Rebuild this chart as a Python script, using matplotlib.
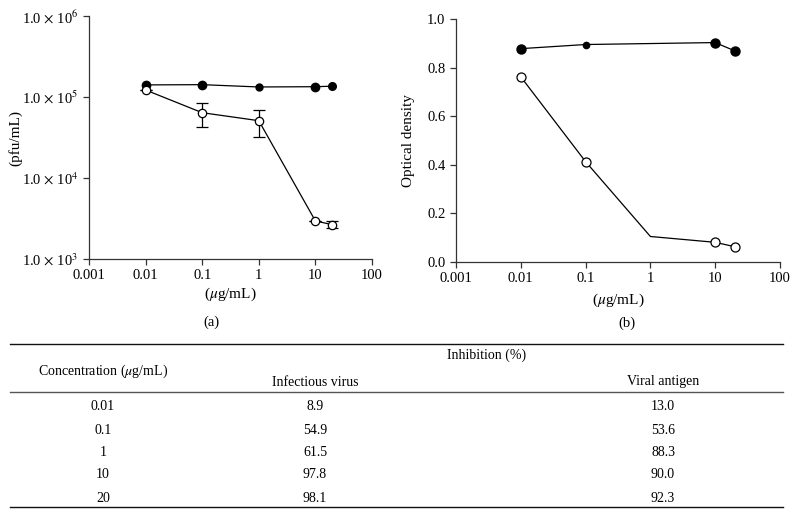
import matplotlib
matplotlib.use("Agg")
import matplotlib.pyplot as plt
from matplotlib.lines import Line2D
from matplotlib.ticker import FixedLocator, NullLocator

plt.rcParams['font.family'] = ['Liberation Serif', 'DejaVu Serif']
plt.rcParams['mathtext.fontset'] = 'stix'

# concentrations (ug/mL)
conc = [0.01, 0.1, 1, 10, 20]

# panel (a): virus titre (pfu/mL)
titre_ctrl = [1.41e5, 1.42e5, 1.33e5, 1.34e5, 1.36e5]
titre_ctrl_size = [6, 6, 5, 6, 5.5]
titre_drug = [1.22e5, 6.4e4, 5.1e4, 2.95e3, 2.65e3]
titre_drug_lo = [0, 2.1e4, 1.85e4, 0, 2.5e2]
titre_drug_hi = [0, 2.1e4, 1.9e4, 0, 3.2e2]

# panel (b): optical density
od_ctrl = [0.878, 0.895, 0.903, 0.869]
od_ctrl_conc = [0.01, 0.1, 10, 20]
od_ctrl_size = [6.5, 4.5, 6.5, 6.5]
od_drug = [0.762, 0.413, 0.105, 0.081, 0.063]
od_drug_marked = [True, True, False, True, True]

# table
tab_conc = ["0.01", "0.1", "1", "10", "20"]
tab_virus = ["8.9", "54.9", "61.5", "97.8", "98.1"]
tab_antigen = ["13.0", "53.6", "88.3", "90.0", "92.3"]

W, H = 796, 516
fig = plt.figure(figsize=(W / 100, H / 100), dpi=100)


def px(x0, y0, x1, y1):
    return [x0 / W, 1 - y1 / H, (x1 - x0) / W, (y1 - y0) / H]


def style(ax):
    ax.spines['top'].set_visible(False)
    ax.spines['right'].set_visible(False)
    for s in ['left', 'bottom']:
        ax.spines[s].set_linewidth(0.9)
        ax.spines[s].set_color('#333333')
    ax.set_xscale('log')
    ax.set_xlim(0.001, 100)
    ax.xaxis.set_major_locator(FixedLocator([0.001, 0.01, 0.1, 1, 10, 100]))
    ax.set_xticklabels(["0.001", "0.01", "0.1", "1", "10", "100"])
    ax.xaxis.set_minor_locator(NullLocator())
    ax.tick_params(direction='out', length=4, width=0.9, labelsize=10.5, color='#333333')


# panel (a)
ax1 = fig.add_axes(px(89, 16, 372, 259))
style(ax1)
ax1.set_yscale('log')
ax1.set_ylim(1e3, 1e6)
ax1.yaxis.set_major_locator(FixedLocator([1e3, 1e4, 1e5, 1e6]))
ax1.yaxis.set_minor_locator(NullLocator())
ax1.set_yticklabels([r"1.0 $\times$ 10$^{%d}$" % e for e in [3, 4, 5, 6]])
ax1.plot(conc, titre_ctrl, color='black', lw=0.9, zorder=2)
for x, y, s in zip(conc, titre_ctrl, titre_ctrl_size):
    ax1.plot(x, y, 'o', color='black', ms=s, zorder=3)
ax1.errorbar(conc, titre_drug, yerr=[titre_drug_lo, titre_drug_hi], color='black', lw=0.9,
             elinewidth=0.9, capsize=4, capthick=0.9, marker='o', ms=6, mfc='white',
             mec='black', mew=0.9, zorder=4)
ax1.set_xlabel(r"($\mu$g/mL)", fontsize=11)
ax1.xaxis.set_label_coords(0.5, -(286 - 259) / 243)
ax1.set_ylabel("(pfu/mL)", fontsize=11)
ax1.yaxis.set_label_coords(-(89 - 22) / 283, 0.5)
fig.text(211 / W, 1 - 322 / H, "(a)", ha='center', va='center', fontsize=10.5)

# panel (b)
ax2 = fig.add_axes(px(456, 19, 780, 262))
style(ax2)
ax2.set_ylim(0, 1.0)
ax2.set_yticks([0.0, 0.2, 0.4, 0.6, 0.8, 1.0])
ax2.set_yticklabels(["0.0", "0.2", "0.4", "0.6", "0.8", "1.0"])
ax2.plot(od_ctrl_conc, od_ctrl, color='black', lw=0.9, zorder=2)
for x, y, s in zip(od_ctrl_conc, od_ctrl, od_ctrl_size):
    ax2.plot(x, y, 'o', color='black', ms=s, zorder=3)
ax2.plot(conc, od_drug, color='black', lw=0.9, zorder=2)
for x, y, m in zip(conc, od_drug, od_drug_marked):
    if m:
        ax2.plot(x, y, 'o', ms=6.5, mfc='white', mec='black', mew=0.9, zorder=3)
ax2.set_xlabel(r"($\mu$g/mL)", fontsize=11)
ax2.xaxis.set_label_coords(0.5, -(292 - 262) / 243)
ax2.set_ylabel("Optical density", fontsize=11)
ax2.yaxis.set_label_coords(-(456 - 415) / 324, 0.5)
fig.text(627 / W, 1 - 323 / H, "(b)", ha='center', va='center', fontsize=10.5)

# table
def hline(y, lw, c):
    fig.add_artist(Line2D([10 / W, 783 / W], [1 - y / H, 1 - y / H], color=c, lw=lw))


hline(344, 1.0, '#111111')
hline(392, 1.0, '#555555')
hline(507, 1.0, '#111111')

fs = 10
fig.text(103 / W, 1 - 371 / H, r"Concentration ($\mu$g/mL)", ha='center', va='center', fontsize=fs)
fig.text(487 / W, 1 - 355 / H, "Inhibition (%)", ha='center', va='center', fontsize=fs)
fig.text(315 / W, 1 - 382 / H, "Infectious virus", ha='center', va='center', fontsize=fs)
fig.text(663 / W, 1 - 382 / H, "Viral antigen", ha='center', va='center', fontsize=fs)
row_y = [407, 430, 453, 475, 498]
for y, c, v, a in zip(row_y, tab_conc, tab_virus, tab_antigen):
    fig.text(103 / W, 1 - y / H, c, ha='center', va='center', fontsize=fs)
    fig.text(315 / W, 1 - y / H, v, ha='center', va='center', fontsize=fs)
    fig.text(663 / W, 1 - y / H, a, ha='center', va='center', fontsize=fs)

fig.savefig("out.png", dpi=100)
